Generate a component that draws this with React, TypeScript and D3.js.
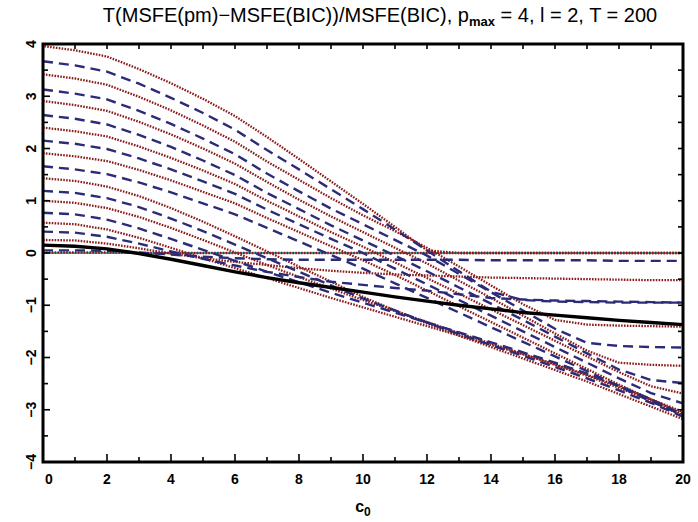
import React from "react";
import * as d3 from "d3";

const c0Values = [0, 1, 2, 3, 4, 5, 6, 7, 8, 9, 10, 11, 12, 13, 14, 15, 16, 17, 18, 19, 20];

const r1 = [3.96, 3.88, 3.76, 3.52, 3.25, 2.95, 2.62, 2.22, 1.8, 1.37, 0.94, 0.5, 0.05, 0, 0, 0, 0, 0, 0, 0, 0];
const b2 = [3.67, 3.59, 3.47, 3.24, 2.97, 2.68, 2.36, 1.97, 1.6, 1.22, 0.84, 0.45, 0.05, -0.35, -0.74, -0.9, -0.93, -0.94, -0.95, -0.95, -0.95];
const r3 = [3.42, 3.34, 3.22, 2.99, 2.73, 2.44, 2.13, 1.75, 1.4, 1.05, 0.72, 0.42, 0.1, -0.26, -0.62, -0.98, -1.28, -1.37, -1.39, -1.4, -1.41];
const b4 = [3.13, 3.05, 2.94, 2.72, 2.47, 2.19, 1.89, 1.52, 1.18, 0.85, 0.55, 0.25, -0.05, -0.4, -0.75, -1.1, -1.45, -1.72, -1.78, -1.8, -1.81];
const r5 = [2.91, 2.83, 2.72, 2.51, 2.27, 2.0, 1.71, 1.36, 1.02, 0.7, 0.4, 0.1, -0.2, -0.53, -0.86, -1.2, -1.54, -1.87, -2.1, -2.14, -2.16];
const b6 = [2.64, 2.57, 2.46, 2.26, 2.03, 1.77, 1.49, 1.15, 0.84, 0.53, 0.24, -0.05, -0.35, -0.66, -0.97, -1.28, -1.6, -1.92, -2.23, -2.43, -2.49];
const r7 = [2.4, 2.33, 2.23, 2.04, 1.82, 1.58, 1.32, 1.0, 0.7, 0.4, 0.12, -0.18, -0.48, -0.78, -1.08, -1.38, -1.68, -1.98, -2.28, -2.55, -2.69];
const b8 = [2.15, 2.09, 1.99, 1.81, 1.6, 1.37, 1.13, 0.83, 0.55, 0.27, 0.0, -0.3, -0.6, -0.9, -1.2, -1.5, -1.8, -2.1, -2.4, -2.68, -2.88];
const r9 = [1.91, 1.85, 1.76, 1.59, 1.39, 1.17, 0.95, 0.67, 0.4, 0.13, -0.14, -0.42, -0.72, -1.02, -1.32, -1.62, -1.92, -2.22, -2.52, -2.8, -3.04];
const b10 = [1.66, 1.6, 1.51, 1.35, 1.16, 0.95, 0.74, 0.48, 0.22, -0.04, -0.3, -0.58, -0.86, -1.14, -1.42, -1.7, -1.98, -2.26, -2.55, -2.84, -3.1];
const r11 = [1.43, 1.38, 1.27, 1.09, 0.86, 0.6, 0.32, 0.03, -0.26, -0.55, -0.84, -1.1, -1.35, -1.58, -1.8, -2.02, -2.24, -2.46, -2.7, -2.94, -3.18];
const b12 = [1.19, 1.15, 1.05, 0.88, 0.66, 0.42, 0.16, -0.1, -0.36, -0.62, -0.87, -1.1, -1.33, -1.55, -1.76, -1.97, -2.18, -2.4, -2.63, -2.87, -3.13];
const r13 = [1.0, 0.96, 0.86, 0.69, 0.48, 0.25, 0.01, -0.23, -0.46, -0.68, -0.9, -1.11, -1.32, -1.53, -1.73, -1.93, -2.14, -2.35, -2.58, -2.83, -3.12];
const b14 = [0.77, 0.74, 0.64, 0.47, 0.27, 0.06, -0.15, -0.36, -0.56, -0.76, -0.95, -1.14, -1.33, -1.52, -1.71, -1.9, -2.1, -2.31, -2.54, -2.8, -3.1];
const r15 = [0.58, 0.55, 0.45, 0.29, 0.1, -0.1, -0.29, -0.48, -0.67, -0.86, -1.04, -1.22, -1.4, -1.58, -1.76, -1.94, -2.13, -2.33, -2.55, -2.8, -3.08];
const b16 = [0.41, 0.39, 0.31, 0.18, 0.03, -0.11, -0.24, -0.36, -0.46, -0.55, -0.61, -0.67, -0.72, -0.79, -0.86, -0.89, -0.91, -0.92, -0.93, -0.94, -0.95];
const r17 = [0.25, 0.24, 0.18, 0.09, -0.01, -0.1, -0.17, -0.23, -0.29, -0.34, -0.38, -0.41, -0.43, -0.45, -0.47, -0.48, -0.49, -0.5, -0.51, -0.52, -0.52];
const b18 = [0.05, 0.05, 0.04, 0.01, -0.03, -0.07, -0.1, -0.12, -0.13, -0.13, -0.13, -0.13, -0.13, -0.13, -0.14, -0.14, -0.14, -0.14, -0.15, -0.15, -0.15];
const r19 = [0.01, 0.01, 0.01, 0, 0, 0, 0, 0, 0, 0, 0, 0, 0, 0, 0, 0, 0, 0, 0, 0, 0];
const blackCurve = [0.15, 0.13, 0.08, -0.01, -0.12, -0.24, -0.36, -0.47, -0.57, -0.66, -0.75, -0.84, -0.92, -1.0, -1.07, -1.14, -1.19, -1.24, -1.29, -1.33, -1.37];

const redSeries = [r1, r3, r5, r7, r9, r11, r13, r15, r17, r19];
const blueSeries = [b2, b4, b6, b8, b10, b12, b14, b16, b18];

const xTickLabels = ["0", "2", "4", "6", "8", "10", "12", "14", "16", "18", "20"];
const yTickLabels = ["−4", "−3", "−2", "−1", "0", "1", "2", "3", "4"];

const W = 698;
const H = 522;
const L = 43, R = 683, T = 44, B = 462;
const DOT = 1.6, GAP = 1.3;

export default function App() {
  const x = d3.scaleLinear().domain([0, 20]).range([L, R]);
  const y = d3.scaleLinear().domain([-4, 4]).range([B, T]);
  const line = d3
    .line<number>()
    .x((_, i) => x(c0Values[i]))
    .y((d) => y(d));

  // length of a polyline up to index k (pixels), used to align dot phases of overlapping lines
  const lenTo = (s: number[], k: number) => {
    let total = 0;
    for (let i = 1; i <= k; i++) {
      total += Math.hypot(x(c0Values[i]) - x(c0Values[i - 1]), y(s[i]) - y(s[i - 1]));
    }
    return total;
  };
  const period = DOT + GAP;
  const alignOffset = (s: number[]) => {
    // align with r19 from index 13 onward (where the top curve sits on zero)
    const d = lenTo(s, 13) - lenTo(r19, 13);
    return ((d % period) + period) % period;
  };

  const xMajor = x.ticks(10);
  const xMinor = d3.range(1, 20, 2);
  const yMajor = y.ticks(8);
  const yMinor = d3.range(-3.5, 4, 1);
  const yAll = d3.range(-3.5, 4, 0.5);

  const red = "#8b1a1a";
  const blue = "#2b2b78";
  const font = "'Liberation Sans', Arial, Helvetica, sans-serif";

  return (
    <svg width={W} height={H} style={{ position: "absolute", left: 0, top: 0, background: "#fff" }}>
      <rect x={0} y={0} width={W} height={H} fill="#fff" />
      <text x={380} y={22} textAnchor="middle" fontFamily={font} fontSize={20} fill="#000">
        T(MSFE(pm)−MSFE(BIC))/MSFE(BIC), p
        <tspan fontSize={13} fontWeight="bold" dy={4}>max</tspan>
        <tspan dy={-4}> = 4, l = 2, T = 200</tspan>
      </text>

      <g>
        <line x1={L} x2={R} y1={y(0)} y2={y(0)} stroke="#4aa6a6" strokeWidth={1.8} />
        {redSeries.map((s, i) => (
          <path
            key={"r" + i}
            d={line(s) || ""}
            fill="none"
            stroke={red}
            strokeWidth={2.3}
            strokeDasharray={`${DOT} ${GAP}`}
            strokeDashoffset={s === r1 ? alignOffset(s) : 0}
          />
        ))}
        {blueSeries.map((s, i) => (
          <path key={"b" + i} d={line(s) || ""} fill="none" stroke={blue} strokeWidth={2.4} strokeDasharray="10 6" />
        ))}
        <path d={line(blackCurve) || ""} fill="none" stroke="#000" strokeWidth={3.4} />
      </g>

      <g stroke="#000" strokeWidth={1.6}>
        {xMajor.map((t) => (
          <g key={"xm" + t}>
            <line x1={x(t)} x2={x(t)} y1={B} y2={B - 8} />
            <line x1={x(t)} x2={x(t)} y1={T} y2={T + 5} />
          </g>
        ))}
        {xMinor.map((t) => (
          <g key={"xn" + t}>
            <line x1={x(t)} x2={x(t)} y1={B} y2={B - 5} />
            <line x1={x(t)} x2={x(t)} y1={T} y2={T + 5} />
          </g>
        ))}
        {yMajor.map((t) => (
          <line key={"ym" + t} x1={L} x2={L + 7} y1={y(t)} y2={y(t)} />
        ))}
        {yMinor.map((t) => (
          <line key={"yn" + t} x1={L} x2={L + 5} y1={y(t)} y2={y(t)} />
        ))}
        {yAll.map((t) => (
          <line key={"yr" + t} x1={R} x2={R - 5} y1={y(t)} y2={y(t)} />
        ))}
      </g>
      <rect x={L} y={T} width={R - L} height={B - T} fill="none" stroke="#000" strokeWidth={3} />

      <g fontFamily={font} fontSize={14} fontWeight="bold" fill="#000">
        {xMajor.map((t, i) => (
          <text key={"xl" + t} x={t === 0 ? x(t) + 6 : x(t)} y={484} textAnchor="middle">
            {xTickLabels[i]}
          </text>
        ))}
        {yMajor.map((t, i) => (
          <text key={"yl" + t} transform={`translate(36,${y(t)}) rotate(-90)`} textAnchor="middle">
            {yTickLabels[i]}
          </text>
        ))}
      </g>
      <text x={(L + R) / 2} y={512} textAnchor="middle" fontFamily={font} fontSize={16} fontWeight="bold">
        c<tspan fontSize={12} dy={4}>0</tspan>
      </text>
    </svg>
  );
}
